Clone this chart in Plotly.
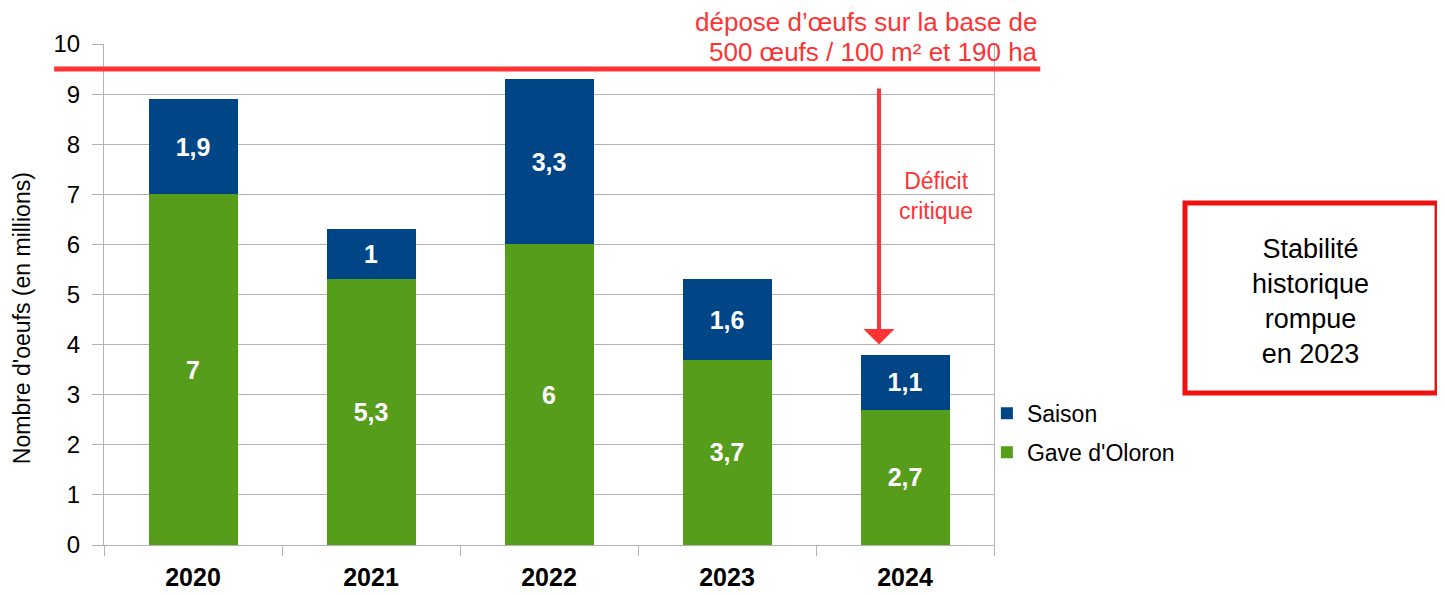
import plotly.graph_objects as go

years = ["2020", "2021", "2022", "2023", "2024"]
gave_oloron = [7, 5.3, 6, 3.7, 2.7]
saison = [1.9, 1, 3.3, 1.6, 1.1]
seuil = 9.5
y_ticks = list(range(0, 11))

BLUE = "#004586"
GREEN = "#579d1c"
RED = "#ff3333"
GRID = "#b3b3b3"
FONT = "Liberation Sans, Arial, sans-serif"


def fmt(v):
    return f"{v:g}".replace(".", ",")


fig = go.Figure()
fig.add_trace(go.Bar(
    x=years, y=gave_oloron, name="Gave d'Oloron", legendgroup="g", legendrank=2,
    marker=dict(color=GREEN, line=dict(width=0)),
    text=[fmt(v) for v in gave_oloron], textposition="inside", insidetextanchor="middle",
    textangle=0, textfont=dict(color="white", size=25, family=FONT, weight="bold"),
))
fig.add_trace(go.Bar(
    x=years, y=saison, name="Saison", legendgroup="s", legendrank=1,
    marker=dict(color=BLUE, line=dict(width=0)),
    text=[fmt(v) for v in saison], textposition="inside", insidetextanchor="middle",
    textangle=0, textfont=dict(color="white", size=25, family=FONT, weight="bold"),
))

fig.update_layout(
    barmode="stack",
    bargap=0.5,
    width=1445, height=595,
    margin=dict(l=96, r=459, t=36, b=58),
    paper_bgcolor="white", plot_bgcolor="white",
    font=dict(family=FONT, color="black"),
    legend=dict(
        x=0.992, y=0.224, xanchor="left", yanchor="middle",
        traceorder="grouped", font=dict(size=23, color="black"),
        bgcolor="rgba(0,0,0,0)", tracegroupgap=6,
    ),
    xaxis=dict(
        type="category", tickson="boundaries", ticks="outside", ticklen=10,
        tickcolor=GRID, showline=True, linecolor=GRID, showgrid=False,
        tickfont=dict(size=25, family=FONT, weight="bold", color="black"),
        ticklabelstandoff=10,
        range=[-0.5, 4.5],
    ),
    yaxis=dict(
        range=[0, 10], tickvals=y_ticks, ticks="outside", ticklen=11, tickcolor=GRID,
        showgrid=True, gridcolor=GRID, gridwidth=1, showline=True, linecolor=GRID,
        mirror=True, zeroline=False, ticklabelstandoff=7,
        tickfont=dict(size=24, family=FONT, color="black"),
    ),
)

# y-axis title
fig.add_annotation(
    xref="paper", yref="paper", x=-0.092, y=0.453, xanchor="center", yanchor="middle",
    text="Nombre d'oeufs (en millions)", textangle=-90, showarrow=False,
    font=dict(size=23, color="black", family=FONT),
)

# threshold line
fig.add_shape(type="line", xref="paper", yref="y", x0=-0.056, x1=1.052, y0=seuil, y1=seuil,
              line=dict(color=RED, width=5))

fig.add_annotation(
    xref="paper", yref="paper", x=1.052, y=1.044, xanchor="right", yanchor="middle",
    text="dépose d’œufs sur la base de",
    showarrow=False, align="right", font=dict(size=26, color=RED, family=FONT),
)
fig.add_annotation(
    xref="paper", yref="paper", x=1.052, y=0.984, xanchor="right", yanchor="middle",
    text="500 œufs / 100 m² et 190 ha",
    showarrow=False, align="right", font=dict(size=26, color=RED, family=FONT),
)

# deficit arrow
fig.add_annotation(
    x=3.854, y=4.0, ax=3.854, ay=9.14, xref="x", yref="y", axref="x", ayref="y",
    text="", showarrow=True, arrowhead=1, arrowsize=1.3, arrowwidth=4, arrowcolor=RED,
)
fig.add_annotation(
    xref="paper", yref="paper", x=0.935, y=0.697, xanchor="center", yanchor="middle",
    text="Déficit<br>critique", showarrow=False, align="center",
    font=dict(size=23, color=RED, family=FONT),
)

# box
fig.add_shape(type="rect", xref="paper", yref="paper", x0=1.2146, x1=1.4978, y0=0.3034, y1=0.6826,
              line=dict(color="#ee1111", width=5), fillcolor="white")
fig.add_annotation(
    xref="paper", yref="paper", x=1.356, y=0.487, xanchor="center", yanchor="middle",
    text="Stabilité<br>historique<br>rompue<br>en 2023", showarrow=False, align="center",
    font=dict(size=27, color="black", family=FONT),
)

fig.write_html("out.html")
